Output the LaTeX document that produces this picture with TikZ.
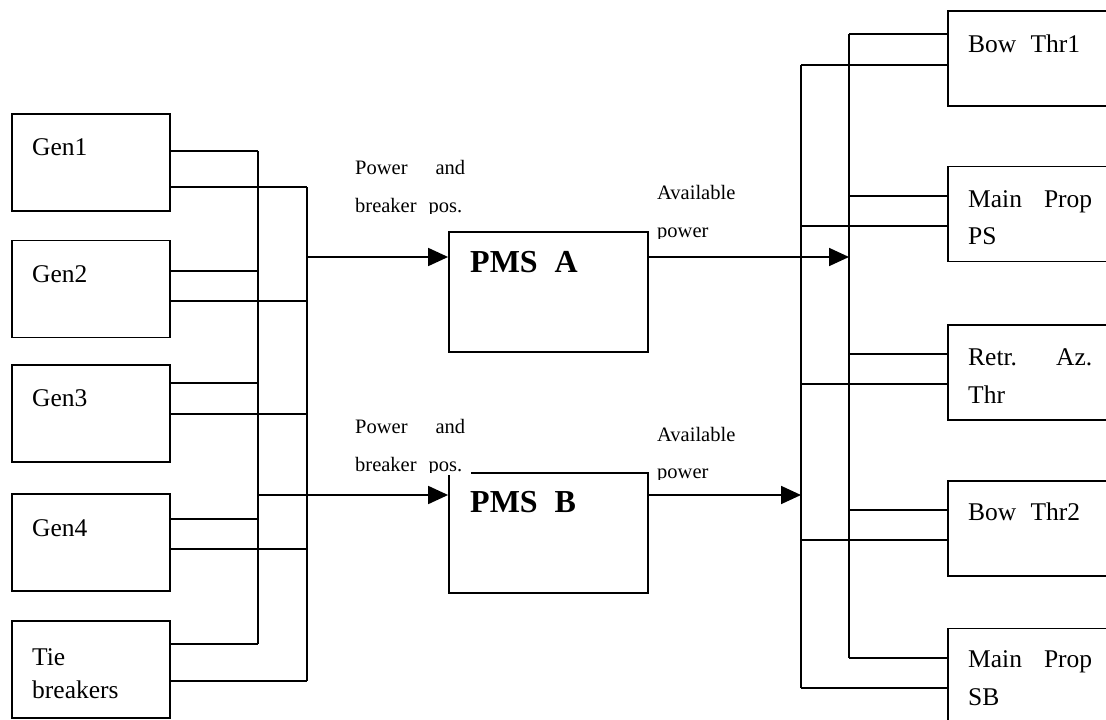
\documentclass[tikz,border=0pt]{standalone}
\usepackage{fontspec}
\setmainfont{Liberation Serif}
\usetikzlibrary{arrows.meta}

\tikzset{
  wire/.style={line width=1.8pt},
  feed/.style={wire, -{Triangle[length=20pt,width=18pt]}},
  blk/.style={draw, line width=1.8pt, inner sep=0pt},
  genbox/.style={blk, minimum width=158pt, minimum height=97pt},
  pmsbox/.style={blk, minimum width=199pt, minimum height=120pt},
  loadbox/.style={blk, minimum width=200pt, minimum height=95pt},
  big/.style={font=\fontsize{25.5}{30}\selectfont, anchor=base west, inner sep=0pt},
  small/.style={font=\fontsize{20.5}{24}\selectfont, anchor=base west, inner sep=0pt},
  head/.style={font=\bfseries\fontsize{32}{38}\selectfont, anchor=base west, inner sep=0pt}
}

\begin{document}
\begin{tikzpicture}[x=1pt,y=-1pt]
\useasboundingbox (0,0) rectangle (1106,720);

% ---------------- generator side ----------------
\node[genbox] (gen1) at (91,162.5) {};
\node[genbox] (gen2) at (91,289)   {};
\node[genbox] (gen3) at (91,413.5) {};
\node[genbox] (gen4) at (91,542.5) {};
\node[genbox] (tie)  at (91,669.5) {};

\node[big] (gen1t) at (32,155) {Gen1};
\node[big] (gen2t) at (32,282) {Gen2};
\node[big] (gen3t) at (32,406) {Gen3};
\node[big] (gen4t) at (32,536) {Gen4};
\node[big] (tiet)  at (32,665) {Tie};
\node[big] (tiet2) at (32,698) {breakers};

% two collecting buses
\coordinate (b1g1) at (258,151); \coordinate (b2g1) at (307,187);
\coordinate (b1g2) at (258,271); \coordinate (b2g2) at (307,301);
\coordinate (b1g3) at (258,383); \coordinate (b2g3) at (307,414);
\coordinate (b1g4) at (258,519); \coordinate (b2g4) at (307,549);
\coordinate (b1t)  at (258,644); \coordinate (b2t)  at (307,681);
\coordinate (jA) at (307,257);
\coordinate (jB) at (258,495);

\draw[wire] (b1g1) -- (b1t);
\draw[wire] (b2g1) -- (b2t);

\foreach \g/\i in {gen1/g1,gen2/g2,gen3/g3,gen4/g4,tie/t}{
  \draw[wire] (\g.east |- b1\i) -- (b1\i);
  \draw[wire] (\g.east |- b2\i) -- (b2\i);
}

% ---------------- power management systems ----------------
\node[pmsbox] (pmsA) at (548.5,292) {};
\node[pmsbox] (pmsB) at (548.5,533) {};
\node[head] (pmsAt) at (470,272) {PMS\hspace{17pt}A};
\node[head] (pmsBt) at (470,512) {PMS\hspace{17pt}B};

\draw[feed] (jA) -- (pmsA.west |- jA);
\draw[feed] (jB) -- (pmsB.west |- jB);

% ---------------- consumer side ----------------
\node[loadbox] (bow1) at (1048,58.5)  {};
\node[loadbox] (mpps) at (1048,214)   {};
\node[loadbox] (retr) at (1048,372.5) {};
\node[loadbox] (bow2) at (1048,528.5) {};
\node[loadbox] (mpsb) at (1048,676)   {};

\node[big] (bow1t) at (968,52)  {\makebox[112pt][s]{Bow Thr1}};
\node[big] (mppst) at (968,207) {\makebox[124pt][s]{Main Prop}};
\node[big] (mppst2) at (968,244) {PS};
\node[big] (retrt) at (968,365) {\makebox[124pt][s]{Retr. Az.}};
\node[big] (retrt2) at (968,403) {Thr};
\node[big] (bow2t) at (968,520) {\makebox[112pt][s]{Bow Thr2}};
\node[big] (mpsbt) at (968,667) {\makebox[124pt][s]{Main Prop}};
\node[big] (mpsbt2) at (968,705) {SB};

% two distribution buses
\coordinate (rA1) at (849,34);  \coordinate (rB1) at (801,65);
\coordinate (rA2) at (849,196); \coordinate (rB2) at (801,226);
\coordinate (rA3) at (849,354); \coordinate (rB3) at (801,384);
\coordinate (rA4) at (849,510); \coordinate (rB4) at (801,540);
\coordinate (rA5) at (849,658); \coordinate (rB5) at (801,688);
\coordinate (inA) at (849,257);
\coordinate (inB) at (801,495);

\draw[wire] (rA1) -- (rA5);
\draw[wire] (rB1) -- (rB5);

\foreach \l/\i in {bow1/1,mpps/2,retr/3,bow2/4,mpsb/5}{
  \draw[wire] (rA\i) -- (\l.west |- rA\i);
  \draw[wire] (rB\i) -- (\l.west |- rB\i);
}

\draw[feed] (pmsA.east |- inA) -- (inA);
\draw[feed] (pmsB.east |- inB) -- (inB);

% ---------------- signal labels (white text frames) ----------------
\begin{scope}
  \fill[white] (352,150) rectangle (470,214);
  \clip (352,150) rectangle (470,213.5);
  \node[small] (pwrA) at (355,174) {\makebox[110pt][s]{Power and}};
  \node[small] (brkA) at (355,212) {\makebox[107pt][s]{breaker pos.}};
\end{scope}
\begin{scope}
  \fill[white] (352,410) rectangle (470.5,475);
  \clip (352,410) rectangle (470.5,472.5);
  \node[small] (pwrB) at (355,433) {\makebox[110pt][s]{Power and}};
  \node[small] (brkB) at (355,471) {\makebox[107pt][s]{breaker pos.}};
\end{scope}
\begin{scope}
  \fill[white] (652,175) rectangle (760,238.5);
  \clip (652,175) rectangle (760,238.5);
  \node[small] (avA) at (657,199) {Available};
  \node[small] (avA2) at (657,237.5) {power};
\end{scope}
\begin{scope}
  \fill[white] (652,418) rectangle (760,479.5);
  \clip (652,418) rectangle (760,479.5);
  \node[small] (avB) at (657,441) {Available};
  \node[small] (avB2) at (657,478.5) {power};
\end{scope}

\end{tikzpicture}
\end{document}
